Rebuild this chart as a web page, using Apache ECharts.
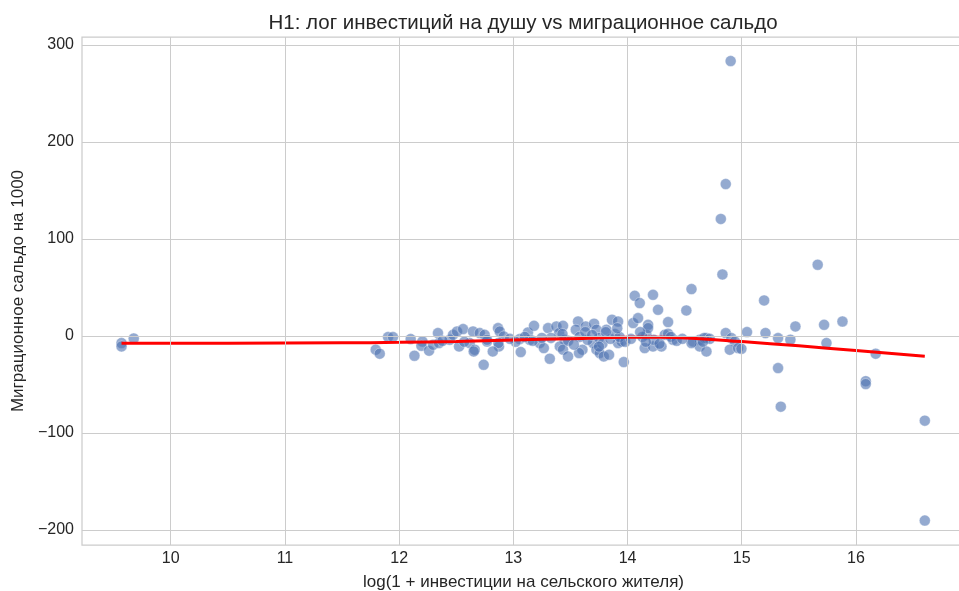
<!DOCTYPE html>
<html><head><meta charset="utf-8">
<script src="https://cdn.jsdelivr.net/npm/echarts@6/dist/echarts.min.js"></script>
<style>html,body{margin:0;padding:0;background:#fff;overflow:hidden}#c{width:959px;height:591px}</style>
</head><body><div id="c"></div><script>
const titleText = 'H1: лог инвестиций на душу vs миграционное сальдо';
const xName = 'log(1 + инвестиции на сельского жителя)';
const yName = 'Миграционное сальдо на 1000';
const xTicks = [10, 11, 12, 13, 14, 15, 16];
const yTicks = [-200, -100, 0, 100, 200, 300];

const invX = [
  9.569, 9.569, 9.676, 11.903, 11.946, 11.795, 11.830,
  12.101, 12.134, 12.204, 12.195, 12.262, 12.340, 12.297, 12.349, 12.443, 12.472,
  12.507, 12.560, 12.525, 12.618, 12.647, 12.662, 12.653, 12.706, 12.749, 12.770,
  12.740, 12.866, 12.881, 12.916, 12.874, 12.869, 13.056, 13.065, 13.128, 13.181,
  13.144, 13.231, 13.267, 13.304, 13.319, 13.377, 13.401, 13.435, 13.450, 13.407,
  13.435, 13.479, 13.567, 13.547, 13.605, 13.575, 13.634, 13.707, 13.728, 13.698,
  13.728, 13.756, 13.792, 13.838, 13.815, 13.864, 13.917, 13.917, 13.947, 13.967,
  14.063, 14.107, 14.223, 14.049, 14.092, 14.180, 14.166, 14.150, 14.223, 14.267,
  14.355, 14.560, 14.515, 14.831, 14.180, 14.326, 14.355, 14.398, 14.297, 14.574,
  14.632, 14.691, 14.632, 14.691, 14.560, 14.860, 14.909, 14.939, 14.895, 14.968,
  14.997, 15.046, 15.196, 15.208, 15.318, 15.426, 15.470, 15.742, 15.721, 15.882,
  15.318, 14.903, 14.860, 14.817, 15.665, 16.086, 16.086, 16.173, 15.342, 16.603,
  16.603,
  13.33, 13.48, 13.58, 13.65, 13.75, 13.78, 13.85, 13.89, 13.93, 13.98, 14.03,
  14.13, 14.23, 14.28, 14.38, 14.43, 14.48, 13.02, 13.10, 13.17, 13.25, 12.97,
  12.77, 12.57, 12.38, 13.63, 13.69, 13.81, 13.91, 13.43, 13.53, 14.11, 14.16,
  14.67, 14.72, 14.66, 12.82, 13.75
];
const migY = [
  -7.3, -10.8, -2.6, -1.1, -1.1, -14.2, -18.3,
  -3.2, -20.4, -5.7, -10.1, -15.2, 3.0, -9.1, -7.3, -3.9, 1.2,
  4.6, 7.1, -10.8, -7.3, 4.6, -14.2, -16.0, 3.0, 1.2, -5.7,
  -29.7, 8.1, 4.6, -0.5, -10.8, -7.3, -3.2, -16.6, 3.6, 10.5,
  -3.9, -7.3, -12.5, 8.1, -23.5, 9.8, 3.0, 10.5, -3.9, -10.8,
  -14.2, -21.1, 14.9, 6.4, -14.2, -17.6, 9.8, 12.6, 6.4, -7.3,
  -14.2, -17.6, -21.1, -19.4, 6.4, 16.7, 14.9, -7.3, -5.7, -26.9,
  41.4, 33.9, 42.4, 13.3, 18.4, 11.5, 1.2, -12.5, -10.8, 27.0,
  14.3, 48.3, 26.3, 63.4, 8.1, 1.2, 2.3, -3.9, -10.8, -5.7,
  -3.9, -2.2, -10.8, -16.0, -7.3, 3.0, -2.2, -5.7, -14.2, -12.5,
  -13.2, 4.0, 36.6, 3.0, -2.2, -3.9, 9.8, -7.3, 11.5, 14.9,
  -33.1, 283.4, 156.6, 120.6, 73.4, -46.6, -49.6, -18.3, -72.9, -87.3,
  -190.3,
  -2, -5, -1, -4, -2, -8, -3, 2, -1, -6, -3,
  -1, -4, -8, -1, -5, -3, -6, -1, -5, -2, -3,
  -4, -6, -5, 4, 1, 4, 8, 2, -9, 4, -6,
  -2, -3, -6, -16, -11
];
const trendX = [9.569, 10.5, 11.5, 12.0, 12.5, 13.0, 13.5, 14.0, 14.3, 14.6, 15.0, 15.5, 16.0, 16.603];
const trendY = [-7.6, -7.4, -7.0, -6.6, -5.6, -4.2, -2.8, -1.4, -1.3, -2.6, -5.8, -10.2, -15.0, -20.8];

const FONT = '"Liberation Sans", Arial, sans-serif';
const INK = '#262626';
const GRIDC = '#cccccc';
const fmt = v => String(v).replace('-', '\u2212');

const chart = echarts.init(document.getElementById('c'), null, {renderer: 'canvas'});
chart.setOption({
  animation: false,
  backgroundColor: '#ffffff',
  textStyle: {fontFamily: FONT},
  title: {
    text: titleText, left: 518, top: 8, textAlign: 'center',
    textStyle: {fontFamily: FONT, fontSize: 20.5, fontWeight: 'normal', color: INK}
  },
  grid: {left: 82, top: 37, width: 883, height: 508, outerBoundsMode: 'none', containLabel: false,
         show: true, borderColor: GRIDC, borderWidth: 1.25, backgroundColor: '#fff'},
  xAxis: {
    type: 'value', min: 9.223, max: 16.955,
    name: xName, nameLocation: 'middle', nameGap: 29,
    nameTextStyle: {fontFamily: FONT, fontSize: 17, color: INK},
    axisLine: {show: false}, axisTick: {show: false}, splitLine: {show: false},
    axisLabel: {customValues: xTicks, formatter: fmt, fontFamily: FONT, fontSize: 16, color: INK, margin: 6}
  },
  yAxis: {
    type: 'value', min: -215.5, max: 308.2,
    name: yName, nameLocation: 'middle', nameGap: 52, nameRotate: 90,
    nameTextStyle: {fontFamily: FONT, fontSize: 17, color: INK},
    axisLine: {show: false}, axisTick: {show: false}, splitLine: {show: false},
    axisLabel: {customValues: yTicks, formatter: fmt, fontFamily: FONT, fontSize: 16, color: INK, margin: 8}
  },
  series: [
    {
      type: 'line', data: [], z: 1, silent: true,
      markLine: {
        silent: true, symbol: ['none', 'none'], label: {show: false},
        lineStyle: {color: GRIDC, width: 1, type: 'solid'},
        data: xTicks.map(v => ({xAxis: v})).concat(yTicks.map(v => ({yAxis: v})))
      }
    },
    {
      type: 'scatter', z: 2,
      data: invX.map((x, i) => [x, migY[i]]),
      symbolSize: 11,
      itemStyle: {color: '#4C72B0', opacity: 0.6, borderColor: '#ffffff', borderWidth: 0.6}
    },
    {
      type: 'line', z: 3, smooth: true, showSymbol: false, symbol: 'none',
      data: trendX.map((x, i) => [x, trendY[i]]),
      lineStyle: {color: '#ff0000', width: 3}
    }
  ]
});
</script></body></html>
